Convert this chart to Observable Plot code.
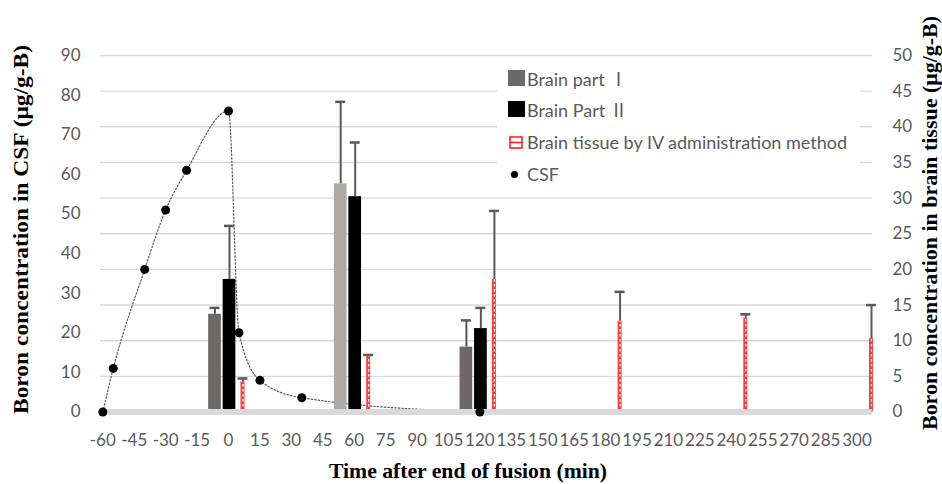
<!DOCTYPE html>
<html><head><meta charset="utf-8">
<script src="https://cdn.jsdelivr.net/npm/d3@7"></script>
<script src="https://cdn.jsdelivr.net/npm/@observablehq/plot@0.6"></script>
<style>
body{margin:0;background:#fff;}
#wrap{position:relative;width:942px;height:484px;overflow:hidden;}
#legend{position:absolute;left:497px;top:60px;width:363px;height:132px;background:#fff;font-family:Lato,"DejaVu Sans",sans-serif;font-size:18px;color:#595959;}
.sw{position:absolute;}
.lt{position:absolute;left:30px;height:22px;line-height:22px;white-space:nowrap;}
.rn{font-family:"Noto Sans CJK JP","Noto Sans CJK SC",serif;}
</style></head><body>
<div id="wrap"><div id="chart"></div><div id="legend"></div></div>
<script>
// ---- data ----
const csfTime  = [-60, -55, -40, -30, -20, 0, 5, 15, 35, 120];
const csfValue = [0, 11, 36, 51, 61, 76, 20, 8, 3.6, 0];
const groupTimes = [0, 60, 120];
const part1    = [13.7, 32.0, 9.1];
const part1Err = [0.9, 11.5, 3.75];
const part2    = [18.6, 30.2, 11.7];
const part2Err = [7.5, 7.6, 2.9];
const ivTimes  = [0, 60, 120, 180, 240, 300];
const ivValue  = [4.2, 7.8, 18.6, 12.75, 13.2, 10.3];
const ivErr    = [0.5, 0.2, 9.6, 4.1, 0.5, 4.7];
const xTicks = d3.range(-60, 301, 15);
const leftTicks = d3.range(0, 91, 10);
const rightTicks = d3.range(0, 51, 5);
const legendLabels = [["Brain part ", "\u2160"], ["Brain Part ", "\u2161"], ["Brain tissue by IV administration method", ""], ["CSF", ""]];

// ---- layout helpers ----
const k = 90 / 50;               // right-axis units -> left-axis units
const xDomain = [-61.1, 307.4];
const mL = 100, mR = 70;
const pxPerMin = (942 - mL - mR) / (xDomain[1] - xDomain[0]);
const m = px => px / pxPerMin;   // pixel offset -> minutes

const csf = csfTime.map((t, i) => ({t, v: csfValue[i]}));
const mk = (times, vals, errs, off, w) => times.map((t, i) => ({t, v: vals[i], e: errs[i], c: t + m(off), w: m(w)}));
const p1 = mk(groupTimes, part1, part1Err, -13.5, 12.7);
const p2 = mk(groupTimes, part2, part2Err, 1, 12.7);
const ivd = mk(ivTimes, ivValue, ivErr, 14.5, 4);
const errs = [...p1, ...p2, ...ivd];

const chart = Plot.plot({
  width: 942, height: 484,
  marginLeft: mL, marginRight: mR, marginTop: 55, marginBottom: 72.5,
  style: {fontFamily: "Lato, sans-serif", fontSize: "17px", color: "#595959", background: "white"},
  x: {domain: xDomain},
  y: {domain: [0, 90]},
  color: {type: "identity"},
  marks: [
    Plot.ruleY(rightTicks, {y: d => d * k, stroke: "#d9d9d9", strokeWidth: 1.4}),
    Plot.line(csf, {x: "t", y: "v", curve: "monotone-x", stroke: "#595959", strokeWidth: 1.2, strokeDasharray: "1.5,2"}),
    Plot.rect(p1, {x1: d => d.c - d.w / 2, x2: d => d.c + d.w / 2, y1: 0, y2: d => d.v * k, fill: d => d.t === 60 ? "#aeaaa8" : "#6f6868"}),
    Plot.rect(p2, {x1: d => d.c - d.w / 2, x2: d => d.c + d.w / 2, y1: 0, y2: d => d.v * k, fill: "black"}),
    Plot.rect(ivd, {x1: d => d.c - d.w / 2, x2: d => d.c + d.w / 2, y1: 0, y2: d => d.v * k, fill: "#ff3c3c"}),
    Plot.ruleX(ivd, {x: "c", y1: 0, y2: d => d.v * k, stroke: "white", strokeWidth: 1.3, strokeDasharray: "2.5,2.5"}),
    Plot.ruleX(errs, {x: "c", y1: d => d.v * k, y2: d => (d.v + d.e) * k, stroke: "#595959", strokeWidth: 2}),
    Plot.ruleY(errs, {y: d => (d.v + d.e) * k, x1: d => d.c - m(5), x2: d => d.c + m(5), stroke: "#595959", strokeWidth: 2.5}),
    Plot.ruleY([0], {stroke: "#d9d9d9", strokeWidth: 6}),
    Plot.dot(csf, {x: "t", y: "v", r: 4.5, fill: "black", stroke: "none"}),
    Plot.axisX({ticks: xTicks, tickFormat: d => String(d), tickSize: 0, tickPadding: 21.5, label: null}),
    Plot.axisY({anchor: "left", ticks: leftTicks, tickFormat: d => String(d), tickSize: 0, tickPadding: 20, label: null}),
    Plot.axisY({anchor: "right", ticks: rightTicks.map(d => d * k), tickFormat: d => String(Math.round(d / k)), tickSize: 0, tickPadding: 20, label: null})
  ]
});
document.getElementById("chart").appendChild(chart);

// axis titles
const svg = d3.select(chart);
const tStyle = s => s.attr("font-family", "'Liberation Serif', 'Times New Roman', serif").attr("font-weight", "bold").attr("font-size", 21).attr("fill", "black").attr("text-anchor", "middle").attr("lengthAdjust", "spacingAndGlyphs");
svg.append("text").call(tStyle).attr("x", 468).attr("y", 478).attr("textLength", 278).text("Time after end of fusion (min)");
svg.append("text").call(tStyle).attr("transform", "translate(28,229.5) rotate(-90)").attr("textLength", 369).text("Boron concentration in CSF (\u03bcg/g-B)");
svg.append("text").call(tStyle).attr("transform", "translate(937,223) rotate(-90)").attr("textLength", 414).text("Boron concentration in brain tissue (\u03bcg/g-B)");

// legend
const lg = document.getElementById("legend");
const centers = [17.7, 49, 81.7, 114];
legendLabels.forEach(([lab, rn], i) => {
  const t = document.createElement("div");
  t.className = "lt"; t.style.top = (centers[i] - 11) + "px"; t.textContent = lab;
  if (rn) { const s = document.createElement("span"); s.className = "rn"; s.textContent = rn; t.appendChild(s); }
  lg.appendChild(t);
});
lg.insertAdjacentHTML("beforeend",
  `<div class="sw" style="left:10.5px;top:10px;width:17px;height:16px;background:#6f6868"></div>
   <div class="sw" style="left:10.5px;top:41px;width:17px;height:16px;background:#000"></div>
   <svg class="sw" style="left:12px;top:76px" width="14" height="13"><rect x="1" y="1" width="12" height="11" fill="white" stroke="#ff2020" stroke-width="1.6"/><line x1="1" x2="13" y1="6.5" y2="6.5" stroke="#ff2020" stroke-width="1.6"/></svg>
   <svg class="sw" style="left:13px;top:110px" width="9" height="9"><circle cx="4.5" cy="4.5" r="3.6" fill="black"/></svg>`);
</script>
</body></html>
